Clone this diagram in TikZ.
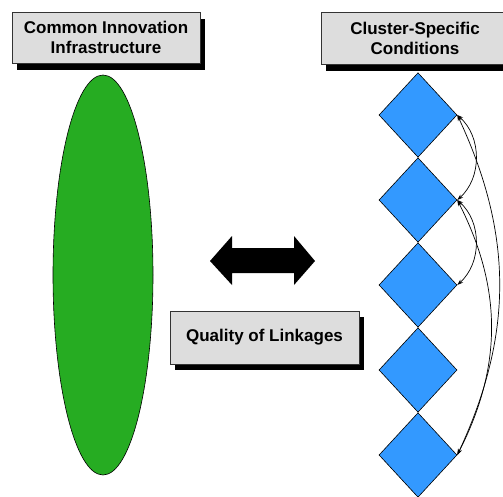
\documentclass[tikz,border=0pt]{standalone}
\usepackage{fontspec}
\setmainfont{Liberation Sans}
\usetikzlibrary{shapes.geometric,arrows.meta}
\definecolor{boxgray}{RGB}{221,221,221}
\definecolor{leafgreen}{RGB}{38,172,34}
\definecolor{skyblue}{RGB}{51,153,255}
\tikzset{
  labelbox/.style={draw=black!80, line width=0.6pt, fill=boxgray, align=center,
    inner sep=0pt, font=\fontsize{17}{20}\selectfont\bfseries},
  boxshadow/.style={fill=black},
  rhomb/.style={diamond, draw=black, line width=0.6pt, fill=skyblue,
    minimum width=78pt, minimum height=84.5pt, inner sep=0pt},
  link/.style={line width=0.7pt, {Stealth[length=6pt,width=4pt]}-{Stealth[length=6pt,width=4pt]}}
}
\begin{document}
\begin{tikzpicture}[x=1pt,y=-1pt]
\useasboundingbox (0,0) rectangle (503,496);

% header boxes with drop shadows
\fill[boxshadow] (17,19) rectangle (205,70);
\node[labelbox, minimum width=188pt, minimum height=51pt] (cii) at (106,37.5)
  {Common Innovation\\Infrastructure};
\fill[boxshadow] (326,19) rectangle (514,71);
\node[labelbox, minimum width=188pt, minimum height=52pt] (csc) at (415,38)
  {Cluster-Specific\\Conditions};

% common infrastructure
\node[ellipse, draw=black, line width=0.6pt, fill=leafgreen,
  minimum width=100pt, minimum height=400pt, inner sep=0pt] (infra) at (103,275) {};

% two-way arrow
\fill[black] (210,261) -- (232,236) -- (232,248) -- (294,248) -- (294,236)
  -- (315,261) -- (294,285) -- (294,273) -- (232,273) -- (232,285) -- cycle;

% linkage box
\fill[boxshadow] (175,317) rectangle (364,370);
\node[labelbox, minimum width=189pt, minimum height=53pt] (qol) at (264.5,337.5)
  {Quality of Linkages};

% stacked cluster conditions
\foreach \i/\y in {1/115,2/200,3/285,4/370,5/455}
  \node[rhomb] (d\i) at (418,\y) {};

% links between conditions
\draw[link] (d1.east) to[bend left=48] (d2.east);
\draw[link] (d2.east) to[bend left=48] (d3.east);
\draw[link] (d1.east) to[bend left=25] (d5.east);
\draw[link] (d2.east) to[bend left=27] (d5.east);
\end{tikzpicture}
\end{document}
